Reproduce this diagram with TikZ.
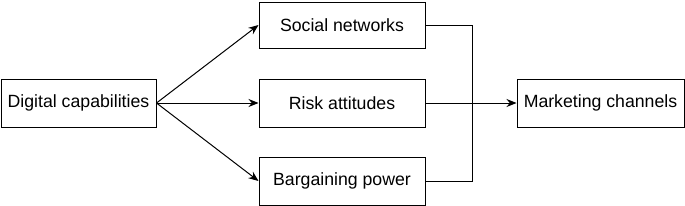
\documentclass[tikz,border=0pt]{standalone}
\usepackage{fontspec}
\setmainfont{Liberation Sans}
\usetikzlibrary{arrows.meta}
\begin{document}
\begin{tikzpicture}[x=1pt,y=-1pt,
  box/.style={draw,line width=1pt,inner sep=0pt,minimum width=166pt,minimum height=47pt,
    font=\fontsize{17.7}{20}\selectfont},
  conn/.style={line width=1pt},
  arr/.style={line width=1pt,-{Stealth[length=10pt,width=8pt]}}]
\useasboundingbox (0,0) rectangle (685,206);
\node[box,minimum width=155pt,minimum height=48pt] (dig) at (78.5,103) {Digital capabilities};
\node[box,minimum height=46pt] (soc) at (342,25) {Social networks};
\node[box,minimum height=48pt] (risk) at (342,103) {Risk attitudes};
\node[box,minimum height=48pt] (barg) at (342,181) {Bargaining power};
\node[box,minimum width=167pt,minimum height=48pt] (mkt) at (600.5,103) {Marketing channels};
\coordinate (j) at (472,103);
\draw[arr] (dig.east) -- (soc.west);
\draw[arr] (dig.east) -- (risk.west);
\draw[arr] (dig.east) -- (barg.west);
\draw[conn] (soc.east) -| (j);
\draw[conn] (barg.east) -| (j);
\draw[arr] (risk.east) -- (mkt.west);
\end{tikzpicture}
\end{document}
